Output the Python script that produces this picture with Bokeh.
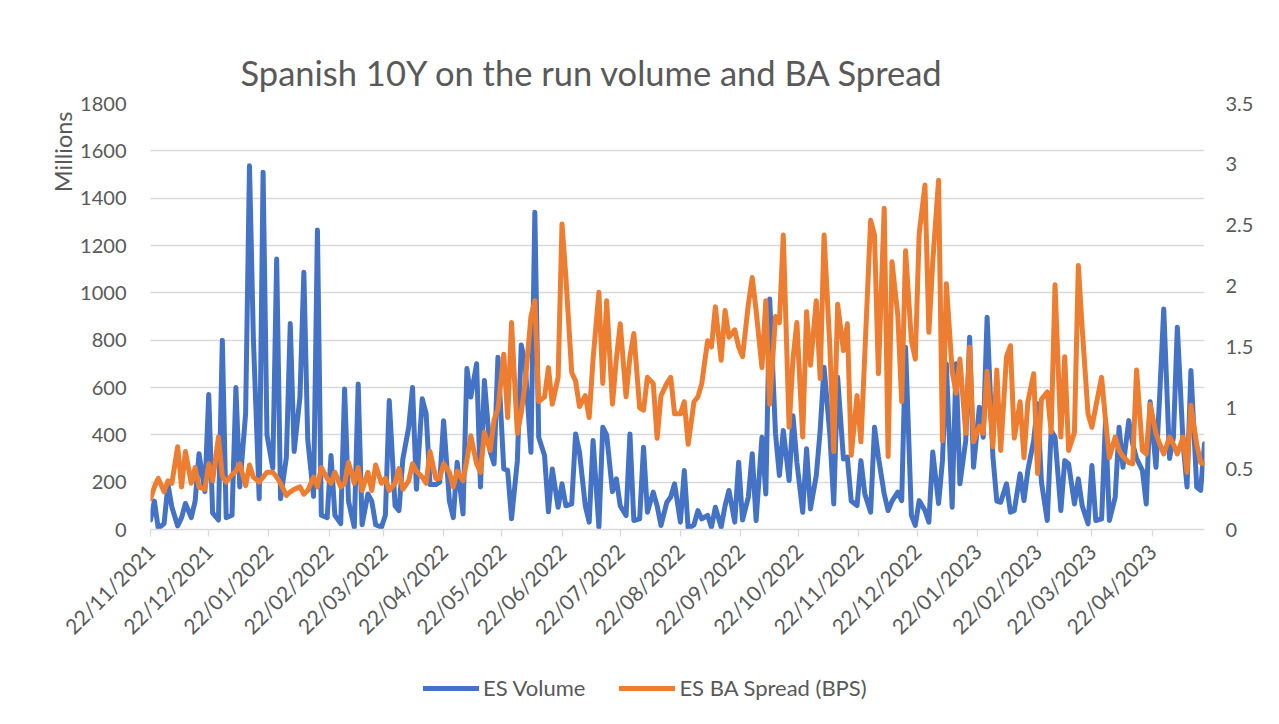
import pandas as pd
from math import pi
from bokeh.plotting import figure
from bokeh.layouts import column
from bokeh.models import (Range1d, LinearAxis, FixedTicker, DatetimeTickFormatter,
                          CustomJSTickFormatter, Legend, LegendItem, Title)
from bokeh.embed import file_html
from bokeh.resources import INLINE

# ---------------- data ----------------
START_MONDAY = "2021-11-22"
N_WEEKS = 78
SAMPLE_WEEKDAYS = [0, 2, 4]          # Mon, Wed, Fri of each week
X_END = "2023-05-19"

# ES Volume (millions), three samples per week
volume = [
    40, 120, 5,    25, 190, 95,   15, 50, 110,   50, 120, 320,  160, 570, 70,
    40, 800, 50,   60, 600, 180,  490, 1537, 805, 130, 1510, 400, 260, 1143, 130,
    305, 870, 330, 560, 1087, 380, 140, 1265, 60, 50, 313, 60,   25, 594, 120,
    10, 615, 20,   150, 120, 20,  10, 60, 545,   100, 80, 298,  430, 600, 170,
    552, 490, 190, 190, 200, 460, 120, 50, 284,  66, 680, 560,  700, 180, 630,
    330, 277, 728, 256, 250, 45,  291, 780, 700, 326, 1340, 390, 313, 75, 256,
    94, 193, 100,  108, 404, 327, 100, 31, 376,  10, 432, 400,  160, 214, 100,
    59, 404, 38,   45, 348, 73,   158, 100, 17,  115, 137, 193, 31, 249, 3,
    20, 80, 45,    60, 10, 94,    10, 100, 165,  31, 284, 40,   137, 320, 38,
    390, 150, 974, 404, 228, 418, 207, 481, 284, 73, 341, 87,   228, 418, 686,
    400, 108, 643, 298, 306, 120, 101, 291, 150, 73, 432, 306,  150, 80, 120,
    158, 122, 770, 60, 17, 122,   80, 31, 327,   110, 291, 700, 94, 700, 193,
    376, 812, 263, 517, 390, 897, 306, 120, 115, 193, 73, 80,   235, 122, 250,
    376, 531, 200, 38, 418, 390,  80, 291, 277,  108, 214, 100, 24, 270, 38,
    45, 460, 38,   137, 432, 263, 460, 362, 300, 250, 108, 540, 263, 580, 932,
    300, 390, 855, 362, 180, 672, 179, 165, 362,
]

# ES BA Spread (BPS), three samples per week
spread = [
    0.25, 0.35, 0.42, 0.31, 0.40, 0.38, 0.68, 0.35, 0.64, 0.38, 0.51, 0.35,
    0.33, 0.54, 0.40, 0.76, 0.44, 0.39, 0.45, 0.48, 0.54, 0.36, 0.53, 0.43,
    0.39, 0.43, 0.47, 0.47, 0.43, 0.38, 0.28, 0.31, 0.33, 0.35, 0.29, 0.32,
    0.43, 0.35, 0.51, 0.42, 0.38, 0.47, 0.35, 0.38, 0.55, 0.38, 0.51, 0.32,
    0.47, 0.32, 0.53, 0.38, 0.42, 0.32, 0.38, 0.50, 0.33, 0.40, 0.54, 0.48,
    0.43, 0.38, 0.64, 0.42, 0.42, 0.54, 0.47, 0.35, 0.48, 0.40, 0.57, 0.77,
    0.54, 0.47, 0.80, 0.65, 0.90, 0.99, 1.44, 0.92, 1.70, 0.79, 0.96, 1.20,
    1.75, 1.88, 1.05, 1.09, 1.33, 1.03, 1.25, 2.51, 2.07, 1.29, 1.22, 1.01,
    1.10, 0.92, 1.40, 1.95, 1.20, 1.88, 1.03, 1.40, 1.69, 1.09, 1.42, 1.61,
    1.00, 0.98, 1.25, 1.20, 0.75, 1.10, 1.20, 1.25, 0.95, 0.95, 1.05, 0.70,
    1.05, 1.09, 1.20, 1.55, 1.50, 1.83, 1.39, 1.80, 1.58, 1.64, 1.50, 1.42,
    1.85, 2.07, 1.80, 1.33, 1.88, 1.03, 1.75, 1.70, 2.42, 0.84, 1.40, 1.70,
    0.76, 1.79, 1.35, 1.88, 1.24, 2.42, 1.50, 0.64, 1.85, 1.47, 1.69, 0.61,
    1.10, 0.72, 1.44, 2.54, 2.42, 1.28, 2.64, 0.60, 2.20, 1.76, 1.05, 2.29,
    1.55, 1.40, 2.43, 2.83, 1.62, 2.20, 2.87, 0.73, 2.02, 1.30, 1.12, 1.40,
    0.79, 1.50, 0.72, 0.85, 0.79, 1.30, 0.68, 1.31, 0.65, 1.42, 1.51, 0.75,
    1.05, 0.59, 1.05, 1.28, 0.46, 1.07, 1.13, 0.80, 2.01, 0.76, 1.42, 0.65,
    0.80, 2.17, 1.65, 0.95, 0.84, 1.01, 1.25, 0.90, 0.59, 0.76, 0.65, 0.60,
    0.55, 0.54, 1.31, 0.65, 0.62, 1.03, 0.79, 0.70, 0.62, 0.76, 0.70, 0.62,
    0.76, 0.47, 1.02, 0.70, 0.55, 0.54,
]

x_tick_labels = ["22/11/2021", "22/12/2021", "22/01/2022", "22/02/2022", "22/03/2022",
                 "22/04/2022", "22/05/2022", "22/06/2022", "22/07/2022", "22/08/2022",
                 "22/09/2022", "22/10/2022", "22/11/2022", "22/12/2022", "22/01/2023",
                 "22/02/2023", "22/03/2023", "22/04/2023"]
left_ticks = [0, 200, 400, 600, 800, 1000, 1200, 1400, 1600, 1800]
right_ticks = [0, 0.5, 1, 1.5, 2, 2.5, 3, 3.5]

TITLE = "Spanish 10Y on the run volume and BA Spread"
Y_UNIT = "Millions"
SERIES_NAMES = ["ES Volume", "ES BA Spread (BPS)"]
COLORS = ["#4472C4", "#ED7D31"]
TEXT = "#595959"
GRID = "#d9d9d9"
FONT = "Lato"
LINE_W = 5

mondays = pd.date_range(START_MONDAY, periods=N_WEEKS, freq="7D")
dates = [m + pd.Timedelta(days=d) for m in mondays for d in SAMPLE_WEEKDAYS]
tick_dates = [pd.to_datetime(t, format="%d/%m/%Y") for t in x_tick_labels]
tick_ms = [t.value / 1e6 for t in tick_dates]

# ---------------- main chart ----------------
p = figure(width=1276, height=660, x_axis_type="datetime",
           x_range=Range1d(pd.Timestamp(START_MONDAY), pd.Timestamp(X_END)),
           y_range=Range1d(0, 1800),
           min_border_left=150, min_border_right=72, min_border_top=103, min_border_bottom=131,
           output_backend="svg", toolbar_location=None,
           background_fill_color="white", border_fill_color="white")
p.outline_line_color = None
p.extra_y_ranges = {"spread": Range1d(0, 3.5)}

# title
p.title.text = TITLE
p.title.align = "left"
p.title.offset = 90
p.title.standoff = 22
p.title.text_font = FONT
p.title.text_font_size = "34.5px"
p.title.text_font_style = "normal"
p.title.text_color = TEXT

# grid
p.xgrid.visible = False
p.ygrid.ticker = FixedTicker(ticks=left_ticks)
p.ygrid.grid_line_color = GRID
p.ygrid.grid_line_width = 1.3

# x axis
xa = p.xaxis[0]
xa.ticker = FixedTicker(ticks=tick_ms)
fmt = "%d/%m/%Y"
xa.formatter = DatetimeTickFormatter(microseconds=fmt, milliseconds=fmt, seconds=fmt, minsec=fmt,
                                     minutes=fmt, hourmin=fmt, hours=fmt, days=fmt,
                                     months=fmt, years=fmt)
xa.major_label_orientation = pi / 4
xa.axis_line_color = GRID
xa.axis_line_width = 1.3
xa.major_tick_line_color = GRID
xa.major_tick_line_width = 1.3
xa.major_tick_out = 7
xa.major_tick_in = 0
xa.minor_tick_line_color = None
xa.major_label_text_font = FONT
xa.major_label_text_font_size = "21px"
xa.major_label_text_color = TEXT
xa.major_label_standoff = 11

# left axis
ya = p.yaxis[0]
ya.ticker = FixedTicker(ticks=left_ticks)
ya.axis_line_color = None
ya.major_tick_line_color = None
ya.minor_tick_line_color = None
ya.major_label_text_font = FONT
ya.major_label_text_font_size = "20px"
ya.major_label_text_color = TEXT
ya.major_label_standoff = 18

# right axis
ra = LinearAxis(y_range_name="spread", ticker=FixedTicker(ticks=right_ticks),
                formatter=CustomJSTickFormatter(code="return String(tick);"))
ra.axis_line_color = None
ra.major_tick_line_color = None
ra.minor_tick_line_color = None
ra.major_label_text_font = FONT
ra.major_label_text_font_size = "20px"
ra.major_label_text_color = TEXT
ra.major_label_standoff = 15
p.add_layout(ra, "right")

# unit label of the left axis, at the top like Excel's display-units label
p.add_layout(Title(text=Y_UNIT, align="right", offset=8, standoff=2, text_font=FONT,
                   text_font_size="23.5px", text_font_style="normal", text_color=TEXT), "left")

# lines
p.line(dates, volume, line_color=COLORS[0], line_width=LINE_W,
       line_join="round", line_cap="round")
p.line(dates, spread, line_color=COLORS[1], line_width=LINE_W,
       line_join="round", line_cap="round", y_range_name="spread")

# ---------------- legend strip under the chart ----------------
# (its frame is aligned with the chart frame by the column layout)
lg = figure(width=1276, height=62, x_range=Range1d(0, 1), y_range=Range1d(0, 1),
            x_axis_location=None, y_axis_location=None,
            min_border_left=150, min_border_right=72, min_border_top=0, min_border_bottom=0,
            output_backend="svg", toolbar_location=None,
            background_fill_color="white", border_fill_color="white")
lg.outline_line_color = None
lg.grid.visible = False
nan = float("nan")
key_vol = lg.line([nan], [nan], line_color=COLORS[0], line_width=LINE_W, line_cap="round")
key_spr = lg.line([nan], [nan], line_color=COLORS[1], line_width=LINE_W, line_cap="round")
legend = Legend(items=[LegendItem(label=SERIES_NAMES[0], renderers=[key_vol]),
                       LegendItem(label=SERIES_NAMES[1], renderers=[key_spr])],
                orientation="horizontal", location=(273, 21),
                glyph_width=56, glyph_height=24, label_standoff=4, spacing=34,
                padding=0, margin=0, border_line_color=None, background_fill_alpha=0,
                label_text_font=FONT, label_text_font_size="22px", label_text_color=TEXT)
lg.add_layout(legend, "center")

layout = column(p, lg, spacing=0)
open("out.html", "w").write(file_html(layout, INLINE))
